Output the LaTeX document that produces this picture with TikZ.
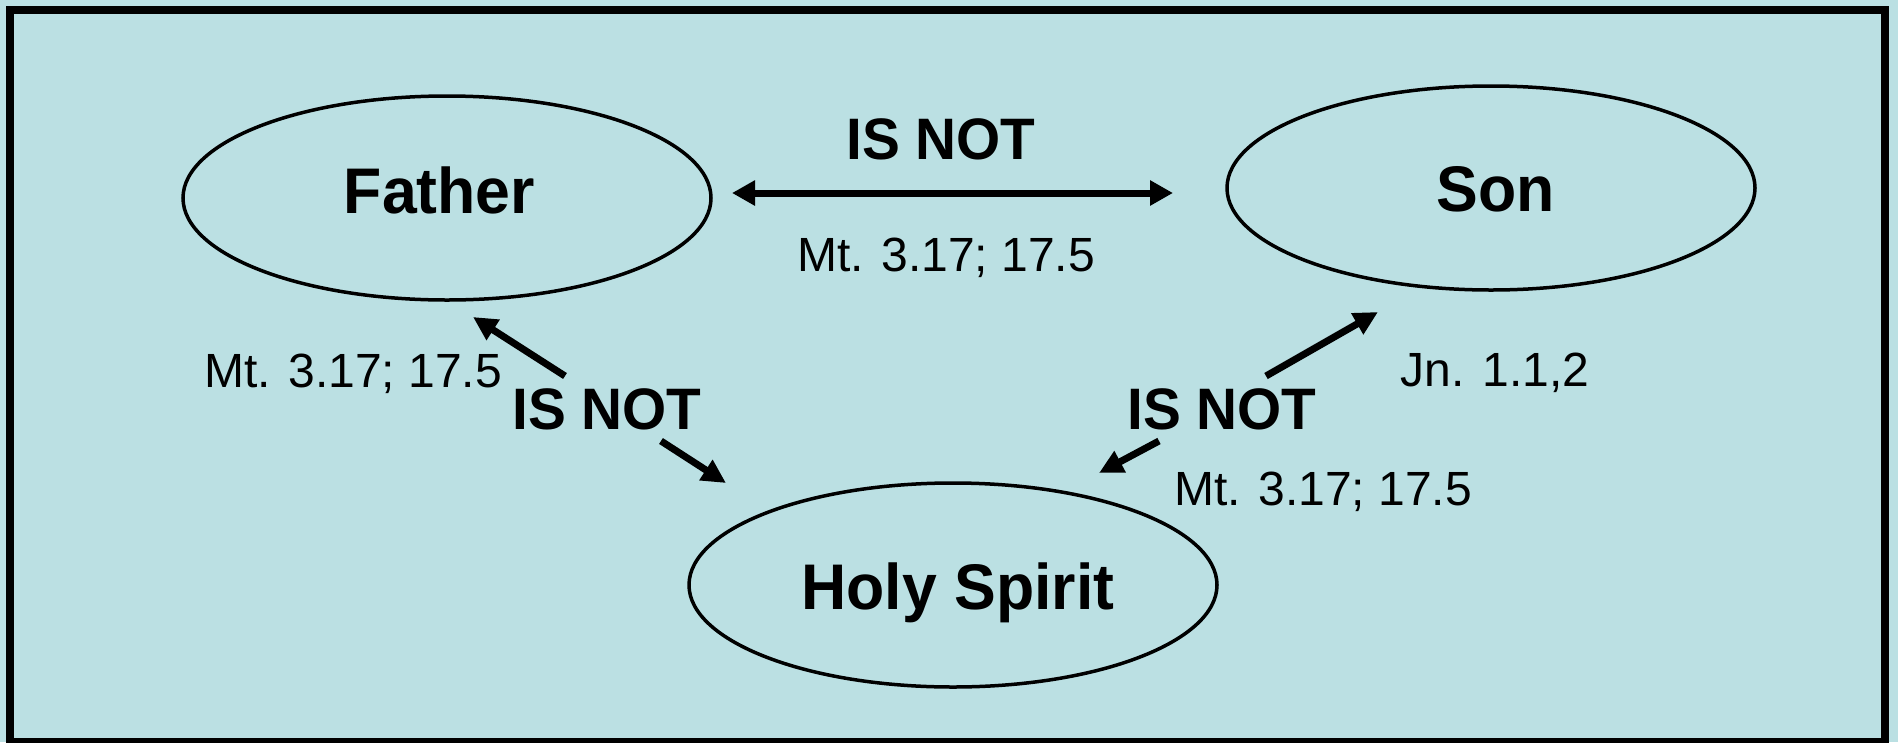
\documentclass[tikz,border=0pt]{standalone}
\usepackage{fontspec}
\setmainfont{Liberation Sans}
\newfontfamily\boldf[FakeStretch=0.97]{Liberation Sans}
\usetikzlibrary{shapes.geometric,arrows.meta}
\definecolor{bgblue}{RGB}{187,224,227}
\tikzset{
  person/.style={ellipse, draw=black, line width=3.5pt, minimum width=528pt, minimum height=204pt, inner sep=0pt},
  nametext/.style={anchor=base, inner sep=0pt, font=\boldf\bfseries\fontsize{64.5}{70}\selectfont},
  isnot/.style={anchor=base, inner sep=0pt, font=\boldf\bfseries\fontsize{58.5}{64}\selectfont},
  ref/.style={anchor=base, inner sep=0pt, font=\fontsize{48}{54}\selectfont},
  relarrow/.style={line width=7pt, -{Triangle[length=24pt,width=23pt]}},
  dblarrow/.style={line width=7pt, {Triangle[length=23pt,width=24pt]}-{Triangle[length=23pt,width=24pt]}}
}
\begin{document}
\begin{tikzpicture}[x=1pt,y=-1pt]
\useasboundingbox (0,0) rectangle (1898,742);
\fill[bgblue] (0,0) rectangle (1898,742);
\begin{scope}
\clip (0,0) rectangle (1898,742);
\draw[line width=8pt] (10,10) rectangle (1885,742);
\end{scope}
% ellipses
\node[person] (father) at (447,198) {};
\node[person] (son) at (1491,188) {};
\node[person] (spirit) at (953,585) {};
\node[nametext] (fathertext) at (439.5,213.3) {Father};
\node[nametext] (sontext) at (1496,211) {Son};
\node[nametext] (spirittext) at (958,609.3) {Holy Spirit};
% labels
\node[isnot] (isnottop) at (941,159.3) {IS NOT};
\node[isnot] (isnotleft) at (607,429) {IS NOT};
\node[isnot] (isnotright) at (1222,429) {IS NOT};
\node[ref] (reftop) at (946,271.7) {Mt. 3.17; 17.5};
\node[ref] (refleft) at (353,387.7) {Mt. 3.17; 17.5};
\node[ref] (refright) at (1323,505) {Mt. 3.17; 17.5};
\node[ref] (refjn) at (1495,386) {Jn. 1.1,2};
% arrow end points
\coordinate (fsL) at (732,193);
\coordinate (fsR) at (1173,193);
\coordinate (lupTail) at (565,376);
\coordinate (lupTip) at (473,317);
\coordinate (llowTail) at (661,441);
\coordinate (llowTip) at (726,483);
\coordinate (rupTail) at (1266,376);
\coordinate (rupTip) at (1378,312);
\coordinate (rlowTail) at (1159,441);
\coordinate (rlowTip) at (1099,473);
\draw[dblarrow] (fsL) -- (fsR);
\draw[relarrow] (lupTail) -- (lupTip);
\draw[relarrow] (llowTail) -- (llowTip);
\draw[relarrow] (rupTail) -- (rupTip);
\draw[relarrow] (rlowTail) -- (rlowTip);
\end{tikzpicture}
\end{document}
